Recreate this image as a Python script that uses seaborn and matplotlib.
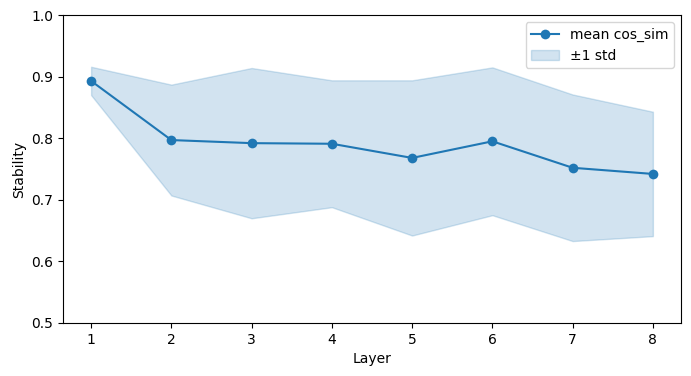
import matplotlib
matplotlib.use("Agg")
import matplotlib.pyplot as plt
import seaborn as sns
import numpy as np
import pandas as pd

layers = [1, 2, 3, 4, 5, 6, 7, 8]
mean_cos = [0.893, 0.797, 0.792, 0.791, 0.768, 0.795, 0.752, 0.742]
std_cos = [0.023, 0.090, 0.122, 0.103, 0.126, 0.120, 0.119, 0.101]

df = pd.DataFrame({"Layer": layers, "mean": mean_cos, "std": std_cos})
lower = df["mean"] - df["std"]
upper = df["mean"] + df["std"]

fig = plt.figure(figsize=(6.91, 3.76), dpi=100)
ax = fig.add_axes([0.0912, 0.141, 0.8943, 0.819])

sns.lineplot(data=df, x="Layer", y="mean", marker="o", markersize=7,
             markeredgewidth=0, color="#1f77b4", label="mean cos_sim", ax=ax)
ax.fill_between(df["Layer"], lower, upper, color="#1f77b4", alpha=0.2, label="±1 std")

ax.set_ylim(0.5, 1.0)
ax.set_xlabel("Layer")
ax.set_ylabel("Stability")
ax.legend(loc="upper right")

fig.savefig("out.png", dpi=100)
